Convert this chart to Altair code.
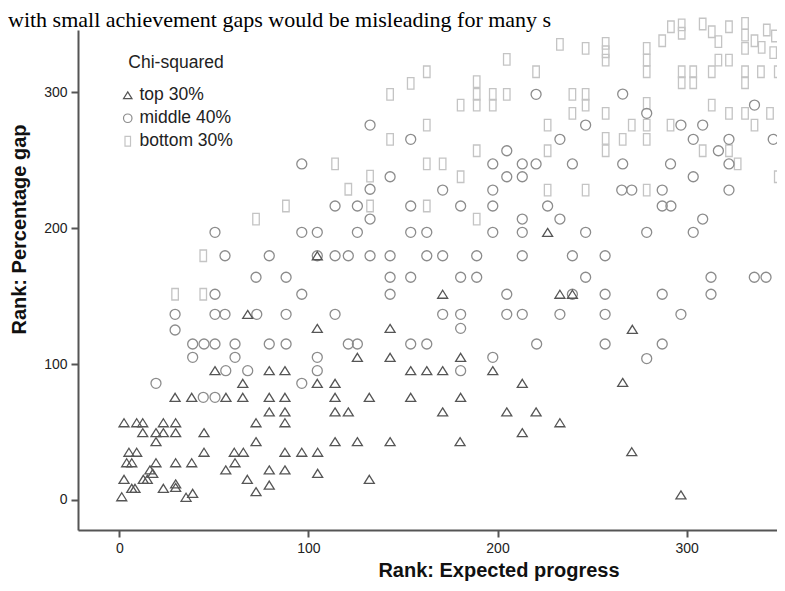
import altair as alt
import pandas as pd

groups = ["top 30%", "middle 40%", "bottom 30%"]

top_x = [2.5, 9.2, 12.4, 23.3, 29.8, 12.4, 19.4, 23.3, 29.8, 44.8, 72.3, 87.6,
         79.3, 87.6, 114.1, 121.1, 19.4, 72.3, 114.1, 125.9, 143.2,
         5.1, 9.2, 44.8, 60.8, 65.6, 87.6, 96.5, 104.9,
         3.9, 6.6, 19.4, 29.8, 38.3, 61.2, 16.2, 56.3, 79.3, 87.6, 17.7, 104.9,
         2.5, 12.7, 14.8, 67.7, 132.2, 29.8, 79.3, 6.6, 8.3, 23.3, 29.8,
         72.3, 38.8, 1.3, 35.3,
         67.9, 104.7, 104.7, 143.2, 125.9, 143.2, 50.6, 79.3, 87.6,
         65.3, 104.7, 114.1, 29.5, 38.3, 56.4, 65.3, 79.3, 87.6, 114.1, 132.2,
         226.5, 171.0, 233.0, 239.6, 180.5, 154.1, 162.6, 171.0, 197.5, 213.1,
         154.1, 180.5, 171.0, 204.9, 220.4, 233.0, 213.1, 180.2, 271.0, 297.0,
         271.3, 266.2]
top_y = [56.8, 56.8, 56.8, 56.8, 56.8, 49.5, 49.5, 49.5, 49.5, 49.5, 56.8, 56.8,
         64.8, 64.8, 64.8, 64.8, 42.9, 42.9, 42.9, 42.9, 42.9,
         35.1, 35.1, 35.1, 35.1, 35.1, 35.1, 35.1, 35.1,
         27.4, 27.4, 27.4, 27.4, 27.4, 27.4, 22.1, 22.1, 22.1, 22.1, 19.6, 19.6,
         15.2, 15.2, 15.2, 15.2, 15.2, 11.8, 11.0, 8.6, 8.6, 8.6, 9.3,
         6.1, 4.9, 2.4, 2.0,
         136.5, 179.6, 126.2, 126.2, 104.9, 104.9, 95.1, 95.1, 95.1,
         85.8, 85.8, 85.8, 75.5, 75.5, 75.5, 75.5, 75.5, 75.5, 75.5, 75.5,
         196.8, 151.3, 151.3, 151.3, 104.9, 95.1, 95.1, 95.1, 95.1, 85.8,
         75.5, 75.5, 64.8, 64.8, 64.8, 56.8, 49.5, 42.9, 35.5, 3.7,
         125.5, 86.5]

mid_x = [114.1, 125.9, 132.6, 50.6, 96.5, 104.7, 125.9,
         55.9, 79.3, 104.7, 114.1, 121.1, 132.6, 143.2,
         72.3, 88.2, 143.2, 50.6, 96.5, 143.2,
         29.5, 50.6, 55.9, 72.7, 88.2, 114.1, 29.5,
         38.8, 44.8, 50.6, 61.2, 79.3, 88.2, 121.1, 125.9,
         38.8, 61.2, 104.7, 56.3, 67.9, 104.7, 19.4, 96.5, 44.4, 50.6,
         171.0, 197.5, 154.1, 180.5, 197.5, 226.5, 213.1, 233.0,
         154.1, 162.6, 197.5, 213.1, 246.6,
         162.6, 171.0, 189.0, 213.1, 239.6,
         154.1, 180.5, 189.0, 246.6, 204.9, 239.6,
         171.0, 180.5, 204.9, 213.1, 233.0, 180.5,
         154.1, 162.6, 220.7, 197.5, 180.5,
         265.7, 271.0, 287.1, 322.4, 287.1, 291.7, 308.5, 278.9, 303.5,
         256.9, 312.9, 335.8, 342.0, 256.9, 287.1, 312.9, 256.9, 297.0,
         256.9, 287.1, 278.9,
         220.4, 246.6, 154.1, 233.0, 204.9, 197.5, 213.1, 220.4, 239.6,
         143.2, 204.9, 213.1,
         266.2, 335.9, 278.9, 297.0, 308.5, 303.5, 322.4, 345.8, 316.8,
         266.2, 291.5, 322.4, 303.5,
         132.6, 96.5, 132.6]
mid_y = [216.2, 216.2, 206.6, 196.8, 196.8, 196.8, 196.8,
         179.6, 179.6, 179.6, 179.6, 179.6, 179.6, 179.6,
         163.8, 163.8, 163.8, 151.3, 151.3, 151.3,
         136.5, 136.5, 136.5, 136.5, 136.5, 136.5, 125.0,
         114.7, 114.7, 114.7, 114.7, 114.7, 114.7, 114.7, 114.7,
         104.9, 104.9, 104.9, 95.1, 95.1, 95.1, 85.8, 85.8, 75.5, 75.5,
         227.9, 227.9, 216.2, 216.2, 216.2, 216.2, 206.6, 206.6,
         196.8, 196.8, 196.8, 196.8, 196.8,
         179.6, 179.6, 179.6, 179.6, 179.6,
         163.8, 163.8, 163.8, 163.8, 151.3, 151.3,
         136.5, 136.5, 136.5, 136.5, 136.5, 126.2,
         114.7, 114.7, 114.7, 104.9, 95.1,
         227.9, 227.9, 227.9, 227.9, 216.2, 216.2, 206.6, 196.8, 196.8,
         179.6, 163.8, 163.8, 163.8, 151.3, 151.3, 151.3, 136.5, 136.5,
         114.7, 114.7, 104.0,
         298.3, 275.7, 265.2, 265.2, 256.8, 247.1, 247.1, 247.1, 247.1,
         237.7, 237.7, 237.7,
         298.5, 290.4, 284.3, 275.7, 275.7, 265.2, 265.2, 265.2, 256.8,
         247.1, 247.1, 247.1, 237.7,
         275.7, 247.1, 228.5]

bot_x = [88.1, 132.6, 72.3, 44.4, 29.5, 44.4,
         162.6, 189.0, 226.5, 246.6, 278.9,
         233.0, 246.6, 204.9, 162.6, 220.4, 154.1, 189.0, 143.2, 189.0, 197.5,
         204.9, 239.6, 246.6, 180.5, 189.0, 197.5, 239.6, 246.6, 162.6, 226.5,
         143.2, 189.0, 226.5, 162.6, 171.0, 180.5,
         291.7, 297.4, 297.4, 308.5, 313.3, 322.4, 330.9, 330.9, 330.9, 342.4,
         350.3, 346.7, 335.9, 339.7, 345.8, 287.1, 316.8,
         257.2, 257.2, 257.2, 278.9, 278.9, 278.9, 316.8, 322.4,
         297.4, 297.4, 303.5, 303.5, 313.3, 330.9, 330.9, 339.3, 348.2, 350.3,
         278.9, 313.3, 257.2, 322.4, 330.9, 344.1,
         271.0, 278.9, 291.5, 335.9, 257.2, 257.2, 266.2, 278.9,
         308.5, 322.4, 327.0, 348.2,
         114.1, 132.6, 121.1]
bot_y = [216.2, 216.2, 206.6, 179.6, 151.3, 151.3,
         216.2, 206.6, 227.9, 227.9, 227.9,
         335.1, 332.1, 324.0, 314.9, 314.9, 306.4, 307.6, 298.3, 298.3, 298.3,
         298.3, 298.3, 298.3, 290.4, 290.4, 290.4, 284.3, 290.4, 275.7, 275.7,
         265.2, 256.8, 256.8, 247.1, 247.1, 237.7,
         348.0, 349.3, 343.2, 350.0, 344.3, 348.0, 350.5, 341.9, 332.1, 345.6,
         351.0, 341.2, 337.7, 332.8, 328.9, 337.7, 337.0,
         335.8, 329.6, 323.5, 332.1, 323.5, 314.9, 323.5, 323.5,
         314.9, 306.8, 314.9, 306.8, 314.9, 314.9, 306.8, 314.9, 314.9, 314.9,
         291.7, 290.4, 284.3, 284.3, 284.3, 284.3,
         275.7, 275.7, 275.7, 275.7, 265.9, 256.8, 265.2, 265.2,
         256.8, 256.8, 247.1, 237.7,
         247.1, 238.2, 228.5]

shapes = ["M0,-0.8L1,0.8L-1,0.8Z", "circle", "M-0.65,-1.15H0.65V1.15H-0.65Z"]
colors = ["#555555", "#8c8c8c", "#c4c4c4"]

rows = []
for g, xs, ys in [(groups[2], bot_x, bot_y), (groups[1], mid_x, mid_y), (groups[0], top_x, top_y)]:
    for xv, yv in zip(xs, ys):
        rows.append({"expected": xv, "gap": yv, "group": g})
df = pd.DataFrame(rows)

leg = alt.Legend(title="Chi-squared", orient="none", legendX=41, legendY=24)

chart = alt.Chart(df).mark_point(filled=False, size=100, strokeWidth=1.3, opacity=1, clip=False).encode(
    x=alt.X("expected:Q", title="Rank: Expected progress",
            scale=alt.Scale(domain=[-21.84, 347.8], nice=False, zero=False),
            axis=alt.Axis(values=[0, 100, 200, 300], grid=False, titleX=420.5, titleY=40,
                          titleBaseline="middle", titleAlign="center")),
    y=alt.Y("gap:Q", title="Rank: Percentage gap",
            scale=alt.Scale(domain=[-22.06, 345.6], nice=False, zero=False),
            axis=alt.Axis(values=[0, 100, 200, 300], grid=False, titleX=-59, titleY=199,
                          titleAngle=270, titleBaseline="middle", titleAlign="center")),
    shape=alt.Shape("group:N", scale=alt.Scale(domain=groups, range=shapes), legend=leg),
    color=alt.Color("group:N", scale=alt.Scale(domain=groups, range=colors), legend=leg),
).properties(
    width=699, height=500,
    title=alt.TitleParams(text="with small achievement gaps would be misleading for many s",
                          anchor="start", frame="group", font="Liberation Serif", fontSize=22,
                          fontWeight="normal", color="#000000", dx=-70, dy=39, baseline="alphabetic"),
    autosize=alt.AutoSizeParams(type="none"),
    padding={"left": 70, "top": 22, "right": 0, "bottom": 53},
).configure_view(stroke=None).configure_axis(
    domainColor="#555555", domainWidth=2, tickColor="#555555", tickWidth=2, tickSize=7,
    labelFont="Liberation Sans", labelFontSize=14, labelColor="#222222", labelPadding=4,
    titleFont="Liberation Sans", titleFontSize=20, titleFontWeight="bold", titleColor="#111111",
).configure_legend(
    titleFont="Liberation Sans", titleFontSize=17.5, titleFontWeight="normal", titleColor="#222222",
    titleAnchor="middle", titlePadding=15,
    labelFont="Liberation Sans", labelFontSize=17.5, labelColor="#222222", labelOffset=3,
    symbolSize=72, symbolStrokeWidth=1.2, rowPadding=4, padding=0,
)

chart.save("out.html", embed_options={"renderer": "svg", "actions": False})
